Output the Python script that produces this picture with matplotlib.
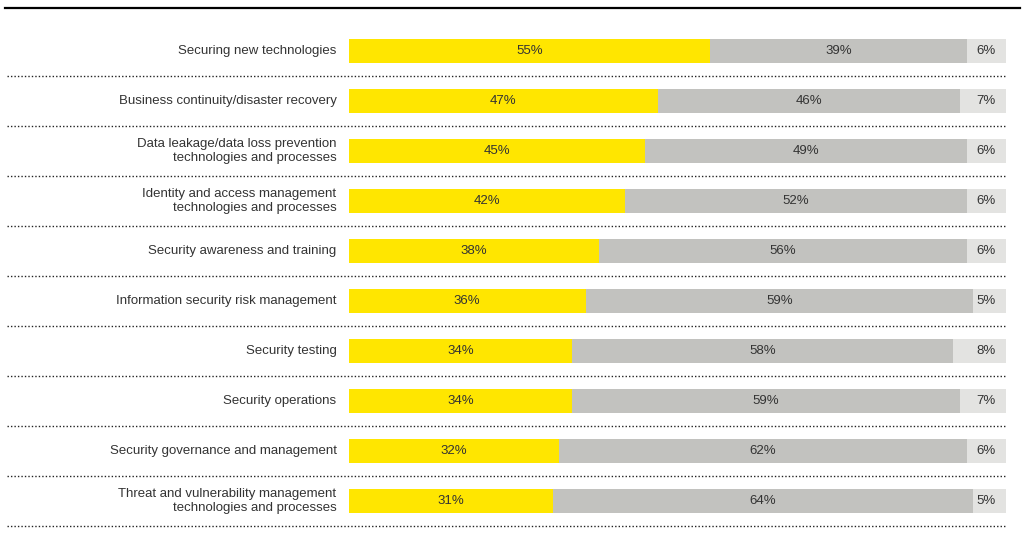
import matplotlib.pyplot as plt
from matplotlib.lines import Line2D

categories = [
    "Securing new technologies",
    "Business continuity/disaster recovery",
    "Data leakage/data loss prevention\ntechnologies and processes",
    "Identity and access management\ntechnologies and processes",
    "Security awareness and training",
    "Information security risk management",
    "Security testing",
    "Security operations",
    "Security governance and management",
    "Threat and vulnerability management\ntechnologies and processes",
]
high = [55, 47, 45, 42, 38, 36, 34, 34, 32, 31]
medium = [39, 46, 49, 52, 56, 59, 58, 59, 62, 64]
low = [6, 7, 6, 6, 6, 5, 8, 7, 6, 5]

YELLOW = "#FFE600"
GREY = "#C2C2BF"
LIGHT = "#E3E3E1"
TEXT = "#333333"
FONT = ["Liberation Sans", "DejaVu Sans"]

W, H = 1024, 534
fig = plt.figure(figsize=(W / 100, H / 100), dpi=100)
ax = fig.add_axes([349 / W, 0, 657 / W, 1])
ax.set_xlim(0, 100)
ax.set_ylim(9.66, -1.02)
ax.axis("off")

rows = range(len(categories))
ax.barh(rows, high, height=0.48, color=YELLOW, linewidth=0)
ax.barh(rows, medium, left=high, height=0.48, color=GREY, linewidth=0)
left3 = [h + m for h, m in zip(high, medium)]
ax.barh(rows, low, left=left3, height=0.48, color=LIGHT, linewidth=0)

for i in rows:
    ax.text(high[i] / 2, i, f"{high[i]}%", ha="center", va="center",
            fontsize=9.5, color=TEXT, family=FONT)
    ax.text(high[i] + medium[i] / 2, i, f"{medium[i]}%", ha="center", va="center",
            fontsize=9.5, color=TEXT, family=FONT)
    ax.text(98.4, i, f"{low[i]}%", ha="right", va="center",
            fontsize=9.5, color=TEXT, family=FONT)
    ax.text(-1.9, i, categories[i], ha="right", va="center", fontsize=9.5,
            color=TEXT, family=FONT, linespacing=1.2)
    # dotted separator under each row
    ax.plot([-52, 100], [i + 0.5, i + 0.5], linestyle=(0, (1, 1.5)),
            color="#222222", linewidth=1, clip_on=False)

# solid rule at top
fig.add_artist(Line2D([5 / W, 1020 / W], [1 - 8 / H, 1 - 8 / H],
                      color="black", linewidth=1.6))

fig.savefig("out.png", dpi=100)
